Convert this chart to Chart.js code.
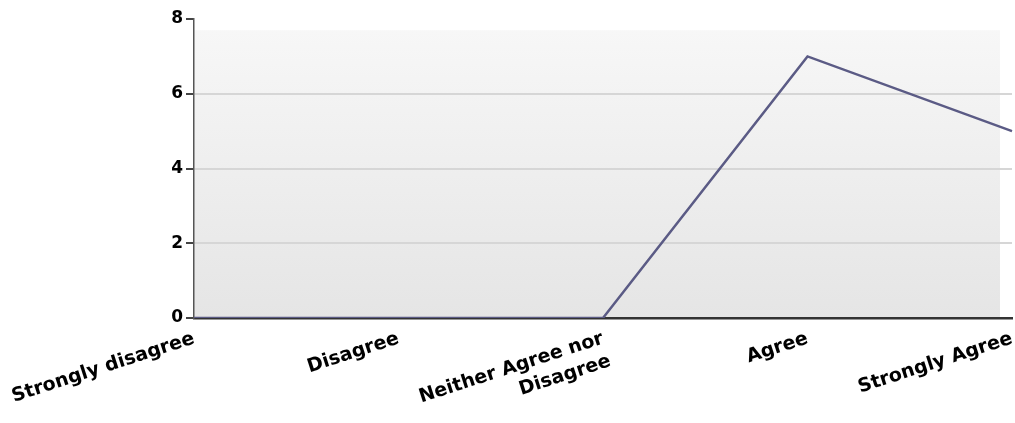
<!DOCTYPE html>
<html>
<head>
<meta charset="utf-8">
<script src="https://cdn.jsdelivr.net/npm/chart.js@4/dist/chart.umd.min.js"></script>
<style>
  html, body { margin: 0; padding: 0; background: #fff; }
  #wrap { width: 1015px; height: 423px; }
</style>
</head>
<body>
<div id="wrap"><canvas id="chart" width="1015" height="423"></canvas></div>
<script>
const categories = ['Strongly disagree', 'Disagree', ['Neither Agree nor', 'Disagree'], 'Agree', 'Strongly Agree'];
const responses = [0, 0, 0, 7, 5];
const yTicks = [0, 2, 4, 6, 8];

// light grey gradient behind the plot
const plotBg = {
  id: 'plotBg',
  beforeDraw(chart) {
    const a = chart.chartArea, ctx = chart.ctx;
    const y = chart.scales.y;
    const top = y.getPixelForValue(7.7);
    const g = ctx.createLinearGradient(0, top, 0, a.bottom);
    g.addColorStop(0, '#f7f7f7');
    g.addColorStop(1, '#e5e5e5');
    ctx.save();
    ctx.fillStyle = g;
    ctx.fillRect(a.left, top, a.right - a.left - 12, a.bottom - top);
    ctx.restore();
  }
};

new Chart(document.getElementById('chart'), {
  type: 'line',
  data: {
    labels: categories,
    datasets: [{
      data: responses,
      borderColor: '#5b5b85',
      borderWidth: 2.5,
      pointRadius: 0,
      tension: 0,
      fill: false
    }]
  },
  options: {
    responsive: false,
    animation: false,
    layout: { padding: { top: 19, right: 3, left: 0, bottom: 0 } },
    plugins: { legend: { display: false }, tooltip: { enabled: false } },
    scales: {
      x: {
        offset: false,
        grid: { display: false, drawOnChartArea: false, drawTicks: true, tickLength: 6, tickColor: '#444' },
        border: { color: '#333', width: 2.5 },
        ticks: {
          color: '#000',
          minRotation: 18,
          maxRotation: 18,
          autoSkip: false,
          padding: 3,
          font: { family: 'DejaVu Sans', size: 19, weight: 'bold', lineHeight: 1.25 }
        },
        afterFit(s) { s.height = 105; s.paddingRight = 0; }
      },
      y: {
        min: 0,
        max: 8,
        afterBuildTicks(s) { s.ticks = yTicks.map(v => ({ value: v })); },
        grid: {
          color: ctx => ctx.tick && ctx.tick.value > 0 && ctx.tick.value < 8 ? '#d6d6d6' : 'rgba(0,0,0,0)',
          lineWidth: 2,
          tickLength: 8,
          tickColor: '#444'
        },
        border: { color: '#555', width: 1.5 },
        ticks: {
          color: '#000',
          padding: 3,
          font: { family: 'DejaVu Sans', size: 17, weight: 'bold' }
        },
        afterFit(s) { s.width = 194; }
      }
    }
  },
  plugins: [plotBg]
});
</script>
</body>
</html>
